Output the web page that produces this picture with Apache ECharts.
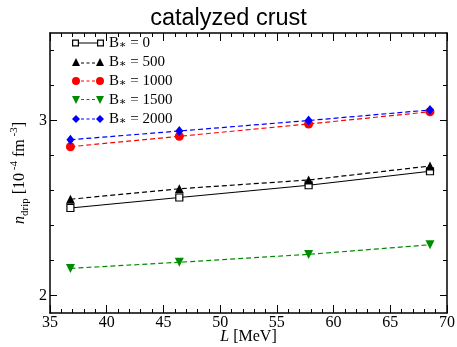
<!DOCTYPE html>
<html>
<head>
<meta charset="utf-8">
<script src="https://cdn.jsdelivr.net/npm/echarts@6/dist/echarts.min.js"></script>
<style>
  html, body { margin: 0; padding: 0; background: #fff; }
  #chart { width: 457px; height: 347px; }
</style>
</head>
<body>
<div id="chart"></div>
<script>
// Symmetry-energy slope L [MeV] for each equation of state
const slopeL = [36.8, 46.4, 57.8, 68.5];

// Neutron-drip density n_drip [1e-4 fm^-3] for each magnetic field strength B*
const drip_B0 = [2.50, 2.56, 2.63, 2.71];
const drip_B500 = [2.55, 2.61, 2.66, 2.74];
const drip_B1000 = [2.85, 2.91, 2.98, 3.05];
const drip_B1500 = [2.155, 2.19, 2.235, 2.29];
const drip_B2000 = [2.89, 2.94, 3.00, 3.06];

const seriesNames = ['B∗ = 0', 'B∗ = 500', 'B∗ = 1000', 'B∗ = 1500', 'B∗ = 2000'];

// Axis ticks
const xTickValues = [35, 40, 45, 50, 55, 60, 65, 70];
const yMajorTicks = [2, 3];
const yMinorTicks = [2.2, 2.4, 2.6, 2.8, 3.2, 3.4];

const SERIF = '"Liberation Serif", "DejaVu Serif", serif';
const SANS = '"Liberation Sans", Arial, sans-serif';

const pairs = vals => slopeL.map((x, i) => [x, vals[i]]);
const dashed = [5, 3];

// Legend icons: symbol, line, symbol
const dashes = y => `M9,${y}H12V${y + 1}H9Z M14.5,${y}H17.5V${y + 1}H14.5Z M20,${y}H23V${y + 1}H20Z`;
const icons = [
  'path://M0,1H7V8H0Z M1.2,2.2V6.8H5.8V2.2Z M25,1H32V8H25Z M26.2,2.2V6.8H30.8V2.2Z M7,4H25V5H7Z',
  'path://M0,8L4,0L8,8Z M24,8L28,0L32,8Z ' + dashes(4.5),
  'path://M0,4A4,4,0,1,1,8,4A4,4,0,1,1,0,4Z M24,4A4,4,0,1,1,32,4A4,4,0,1,1,24,4Z ' + dashes(3.5),
  'path://M0,0L8,0L4,8Z M24,0L32,0L28,8Z ' + dashes(3),
  'path://M4,0L8,4L4,8L0,4Z M28,0L32,4L28,8L24,4Z ' + dashes(3.5)
];
const colors = ['#000000', '#000000', '#ff0000', '#008c00', '#0000ff'];

const frameLine = { show: true, onZero: false, lineStyle: { color: '#000', width: 1.5 } };
const tickLine = { color: '#000', width: 1 };

function yAxisDef(position, ticks, len, withLabels) {
  return {
    type: 'value', position, min: 1.9, max: 3.5,
    axisLine: len > 5 ? frameLine : { show: false },
    axisTick: { show: true, inside: true, length: len, customValues: ticks, lineStyle: tickLine },
    axisLabel: withLabels
      ? { show: true, customValues: yMajorTicks, margin: 3, color: '#000', fontFamily: SERIF, fontSize: 16 }
      : { show: false },
    splitLine: { show: false }
  };
}

function xAxisDef(position, withLabels) {
  const ax = {
    type: 'value', position, min: 35, max: 70, interval: 5,
    axisLine: frameLine,
    axisTick: { show: true, inside: true, length: 8, lineStyle: tickLine },
    minorTick: { show: true, splitNumber: 5, length: 4, lineStyle: tickLine },
    axisLabel: withLabels
      ? { show: true, margin: 2, color: '#000', fontFamily: SERIF, fontSize: 16,
          formatter: v => xTickValues.includes(v) ? String(v) : '' }
      : { show: false },
    splitLine: { show: false }
  };
  if (withLabels) {
    Object.assign(ax, {
      name: '{i|L} [MeV]', nameLocation: 'middle', nameGap: 16, nameMoveOverlap: false,
      nameTextStyle: { color: '#000', fontFamily: SERIF, fontSize: 16, lineHeight: 16,
        rich: { i: { fontStyle: 'italic', fontFamily: SERIF, fontSize: 16, color: '#000' } } }
    });
  }
  return ax;
}

const yLeft = yAxisDef('left', yMajorTicks, 7, true);
Object.assign(yLeft, {
  name: '{i|n}{sub|drip} [10{sup| -4} fm{sup| -3}]',
  nameLocation: 'middle', nameRotate: 90, nameGap: 19, nameMoveOverlap: false,
  nameTextStyle: {
    color: '#000', fontFamily: SERIF, fontSize: 16, lineHeight: 22,
    rich: {
      i: { fontStyle: 'italic', fontFamily: SERIF, fontSize: 16, color: '#000', lineHeight: 22 },
      sub: { fontFamily: SERIF, fontSize: 11, color: '#000', lineHeight: 10, verticalAlign: 'bottom' },
      sup: { fontFamily: SERIF, fontSize: 11, color: '#000', lineHeight: 11, verticalAlign: 'top' }
    }
  }
});

function lineSeries(i, vals, symbol, size, extra) {
  return Object.assign({
    type: 'line', name: seriesNames[i], data: pairs(vals),
    xAxisIndex: 0, yAxisIndex: 0,
    symbol, symbolSize: size, showSymbol: true,
    lineStyle: { color: colors[i], width: 1.2, type: i === 0 ? 'solid' : dashed },
    itemStyle: { color: colors[i] },
    emphasis: { disabled: true }
  }, extra || {});
}

const option = {
  animation: false,
  backgroundColor: '#fff',
  title: {
    text: 'catalyzed crust', left: 'center', top: 2,
    textStyle: { fontFamily: SANS, fontSize: 23.5, fontWeight: 'normal', color: '#000' }
  },
  grid: { left: 50, right: 10, top: 33, bottom: 34, containLabel: false, outerBoundsMode: 'none' },
  legend: {
    orient: 'vertical', left: 72, top: 35, padding: 0,
    itemWidth: 32, itemHeight: 8, itemGap: 3, selectedMode: false,
    textStyle: {
      fontFamily: SERIF, fontSize: 15, lineHeight: 16, color: '#000',
      rich: { s: { fontFamily: SERIF, fontSize: 11, lineHeight: 9, verticalAlign: 'bottom', color: '#000' } }
    },
    formatter: name => name.replace('∗', '{s|∗}'),
    data: seriesNames.map((n, i) => ({
      name: n, icon: icons[i],
      itemStyle: { color: colors[i], borderWidth: 0, borderColor: colors[i] }
    }))
  },
  xAxis: [xAxisDef('bottom', true), xAxisDef('top', false)],
  yAxis: [
    yLeft,
    yAxisDef('left', yMinorTicks, 4, false),
    yAxisDef('right', yMajorTicks, 7, false),
    yAxisDef('right', yMinorTicks, 4, false)
  ],
  series: [
    lineSeries(0, drip_B0, 'rect', 7, {
      itemStyle: { color: '#fff', borderColor: '#000', borderWidth: 1.2 }
    }),
    lineSeries(1, drip_B500, 'triangle', 9),
    lineSeries(2, drip_B1000, 'circle', 9),
    lineSeries(3, drip_B1500, 'triangle', 9, { symbolRotate: 180 }),
    lineSeries(4, drip_B2000, 'diamond', [8, 10])
  ]
};

const chart = echarts.init(document.getElementById('chart'), null, { renderer: 'canvas' });
chart.setOption(option);
</script>
</body>
</html>
